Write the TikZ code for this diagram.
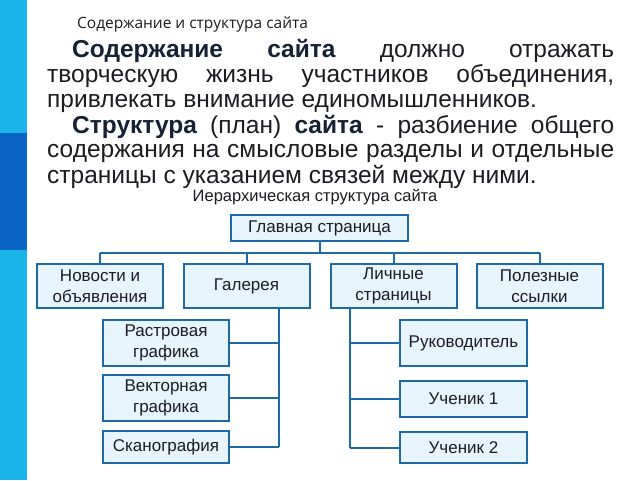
\documentclass[tikz,border=0pt]{standalone}
\usepackage{fontspec}
\setmainfont{Liberation Sans}
\newfontfamily\hdrfont{Open Sans}
\definecolor{barlight}{RGB}{27,180,232}
\definecolor{bardark}{RGB}{10,100,198}
\definecolor{boxedge}{RGB}{30,105,170}
\definecolor{boxfill}{RGB}{232,244,251}
\definecolor{txt}{RGB}{28,28,34}
\definecolor{boldtxt}{RGB}{22,34,52}
\begin{document}
\begin{tikzpicture}[x=1pt,y=-1pt,
  box/.style={draw=boxedge,line width=2pt,fill=boxfill,inner sep=0pt,align=center,
    font=\fontsize{17}{21}\selectfont,text=txt},
  link/.style={draw=boxedge,line width=2pt},
  para/.style={anchor=base west,inner sep=0pt,text=txt,font=\fontsize{24.5}{25}\selectfont}]
\useasboundingbox (0,0) rectangle (640,480);
\fill[white] (0,0) rectangle (640,480);
\fill[barlight] (0,0) rectangle (27,480);
\fill[bardark] (0,133) rectangle (27,250);
% header
\node[anchor=base west,inner sep=0pt,text=txt,font=\hdrfont\fontsize{15.5}{17}\selectfont] (hdr) at (77,28) {Содержание и структура сайта};
% paragraph
\node[para] (l1) at (72,57) {\makebox[542pt][s]{\textbf{\color{boldtxt}Содержание сайта} должно отражать}};
\node[para] (l2) at (47,82) {\makebox[567pt][s]{творческую жизнь участников объединения,}};
\node[para] (l3) at (47,107) {привлекать внимание единомышленников.};
\node[para] (l4) at (72,133) {\makebox[542pt][s]{\textbf{\color{boldtxt}Структура} (план) \textbf{\color{boldtxt}сайта} - разбиение общего}};
\node[para] (l5) at (47,157) {\makebox[567pt][s]{содержания на смысловые разделы и отдельные}};
\node[para] (l6) at (47,183) {страницы с указанием связей между ними.};
\node[anchor=base,inner sep=0pt,text=txt,font=\fontsize{16.5}{18}\selectfont] (cap) at (315,201) {Иерархическая структура сайта};
% tree
\node[box,minimum width=177pt,minimum height=26pt] (main) at (319.5,228) {Главная страница};
\node[box,minimum width=126pt,minimum height=44pt] (news) at (100,286) {Новости и\\объявления};
\node[box,minimum width=126pt,minimum height=44pt] (gal) at (246.5,286) {Галерея};
\node[box,minimum width=126pt,minimum height=44pt] (pers) at (393.5,286) {Личные\\страницы};
\node[box,minimum width=126pt,minimum height=44pt] (links) at (539.5,286) {Полезные\\ссылки};
\node[box,minimum width=126pt,minimum height=46pt] (rast) at (166,343) {Растровая\\графика};
\node[box,minimum width=126pt,minimum height=46pt] (vect) at (166,398) {Векторная\\графика};
\node[box,minimum width=126pt,minimum height=32pt] (scan) at (166,447) {Сканография};
\node[box,minimum width=127pt,minimum height=46pt] (head) at (463.5,343) {Руководитель};
\node[box,minimum width=127pt,minimum height=36pt] (st1) at (463.5,399) {Ученик 1};
\node[box,minimum width=127pt,minimum height=31pt] (st2) at (463.5,447.5) {Ученик 2};
\coordinate (bus) at (0,253);
\coordinate (tl) at (279,447);
\coordinate (tr) at (350,447.5);
% connectors
\draw[link] (main.south) -- (main.south |- bus);
\draw[link] (news.north |- bus) -- (links.north |- bus);
\draw[link] (news.north) -- (news.north |- bus);
\draw[link] (gal.north) -- (gal.north |- bus);
\draw[link] (pers.north) -- (pers.north |- bus);
\draw[link] (links.north) -- (links.north |- bus);
\draw[link] (gal.south -| tl) -- (tl);
\draw[link] (rast.east) -- (rast.east -| tl);
\draw[link] (vect.east) -- (vect.east -| tl);
\draw[link] (scan.east) -- (tl);
\draw[link] (pers.south -| tr) -- (tr);
\draw[link] (head.west) -- (head.west -| tr);
\draw[link] (st1.west) -- (st1.west -| tr);
\draw[link] (st2.west) -- (tr);
\end{tikzpicture}
\end{document}
